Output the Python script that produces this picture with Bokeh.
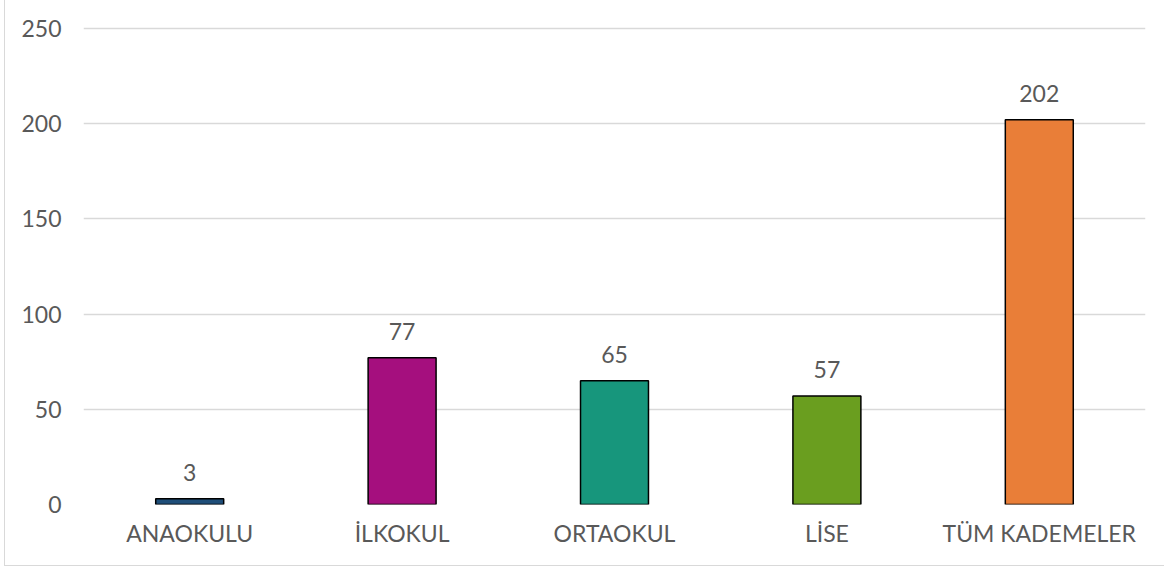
from bokeh.plotting import figure
from bokeh.models import ColumnDataSource, FixedTicker, Range1d, LabelSet
from bokeh.core.properties import value
from bokeh.embed import file_html
from bokeh.resources import INLINE

categories = ["ANAOKULU", "İLKOKUL", "ORTAOKUL", "LİSE", "TÜM KADEMELER"]
values = [3, 77, 65, 57, 202]
colors = ["#1F4E79", "#A50F7E", "#17967C", "#6A9E1F", "#E97E38"]
y_ticks = [0, 50, 100, 150, 200, 250]

FONT = "Lato"
GRAY = "#595959"
FSIZE = "23px"

src = ColumnDataSource(dict(cat=categories, val=values, color=colors,
                            lab=[str(v) for v in values]))

p = figure(x_range=categories, y_range=Range1d(0, 251),
           width=1160, height=566, output_backend="svg", toolbar_location=None,
           min_border_left=78, min_border_right=20, min_border_top=26, min_border_bottom=62)
p.styles = {"border-left": "1px solid #d9d9d9", "border-bottom": "1px solid #d9d9d9",
            "box-sizing": "border-box", "margin-left": "4px"}

p.vbar(x="cat", top="val", width=0.32, source=src, fill_color="color",
       line_color="black", line_width=1.5)

labels = LabelSet(x="cat", y="val", text="lab", source=src, text_align="center",
                  text_baseline="alphabetic", y_offset=18, text_font=value(FONT),
                  text_font_size=value(FSIZE), text_color=GRAY)
p.add_layout(labels)

p.outline_line_color = None
p.xgrid.grid_line_color = None
p.ygrid.grid_line_color = "#d9d9d9"
p.ygrid.grid_line_width = 1.5
p.yaxis.ticker = FixedTicker(ticks=y_ticks)

for ax in (p.xaxis, p.yaxis):
    ax.axis_line_color = None
    ax.major_tick_line_color = None
    ax.minor_tick_line_color = None
    ax.major_tick_out = 0
    ax.major_tick_in = 0
    ax.major_label_text_font = FONT
    ax.major_label_text_font_size = FSIZE
    ax.major_label_text_color = GRAY

p.yaxis.major_label_standoff = 22
p.xaxis.major_label_standoff = 14
p.x_range.range_padding = 0.0

open("out.html", "w").write(file_html(p, INLINE))
